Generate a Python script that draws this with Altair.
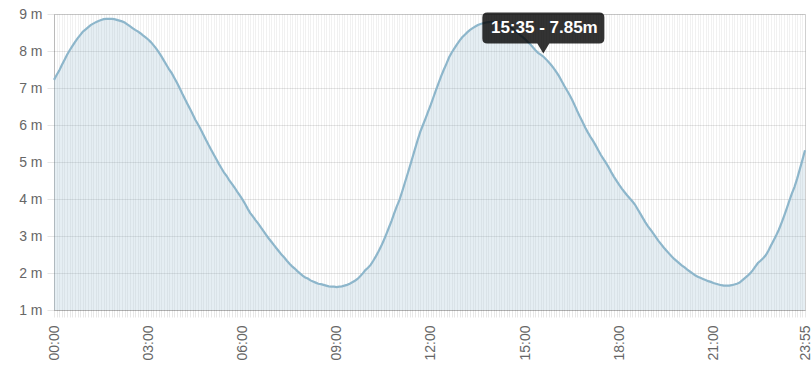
import altair as alt
import pandas as pd

# Tide heights (m) every 5 minutes, 00:00 .. 23:55
h00 = [7.22, 7.35, 7.47, 7.62, 7.76, 7.90, 8.02, 8.13, 8.24, 8.34, 8.43, 8.52]
h01 = [8.58, 8.64, 8.70, 8.74, 8.78, 8.81, 8.84, 8.86, 8.87, 8.87, 8.87, 8.86]
h02 = [8.84, 8.82, 8.80, 8.77, 8.72, 8.67, 8.62, 8.57, 8.53, 8.48, 8.42, 8.37]
h03 = [8.31, 8.24, 8.16, 8.07, 7.97, 7.86, 7.74, 7.62, 7.50, 7.40, 7.27, 7.14]
h04 = [7.00, 6.85, 6.71, 6.57, 6.43, 6.29, 6.14, 6.02, 5.89, 5.75, 5.61, 5.47]
h05 = [5.34, 5.21, 5.08, 4.95, 4.83, 4.71, 4.62, 4.50, 4.41, 4.31, 4.20, 4.10]
h06 = [3.99, 3.87, 3.74, 3.62, 3.53, 3.43, 3.34, 3.24, 3.14, 3.04, 2.94, 2.85]
h07 = [2.76, 2.67, 2.58, 2.49, 2.42, 2.33, 2.25, 2.18, 2.12, 2.05, 1.99, 1.93]
h08 = [1.88, 1.85, 1.80, 1.77, 1.74, 1.71, 1.70, 1.68, 1.66, 1.64, 1.63, 1.63]
h09 = [1.62, 1.63, 1.64, 1.66, 1.68, 1.71, 1.75, 1.79, 1.84, 1.91, 1.99, 2.08]
h10 = [2.14, 2.22, 2.33, 2.45, 2.58, 2.72, 2.88, 3.05, 3.23, 3.41, 3.61, 3.80]
h11 = [3.97, 4.19, 4.42, 4.65, 4.88, 5.12, 5.36, 5.60, 5.82, 6.00, 6.18, 6.37]
h12 = [6.55, 6.75, 6.95, 7.14, 7.33, 7.50, 7.66, 7.83, 7.96, 8.07, 8.18, 8.28]
h13 = [8.37, 8.44, 8.51, 8.57, 8.62, 8.66, 8.70, 8.73, 8.75, 8.77, 8.78, 8.79]
h14 = [8.79, 8.79, 8.78, 8.76, 8.73, 8.70, 8.66, 8.61, 8.56, 8.50, 8.44, 8.38]
h15 = [8.32, 8.25, 8.18, 8.10, 8.02, 7.95, 7.90, 7.85, 7.78, 7.70, 7.62, 7.53]
h16 = [7.43, 7.32, 7.19, 7.06, 6.94, 6.82, 6.68, 6.53, 6.37, 6.22, 6.08, 5.93]
h17 = [5.80, 5.68, 5.57, 5.45, 5.32, 5.19, 5.08, 4.97, 4.85, 4.72, 4.60, 4.49]
h18 = [4.38, 4.28, 4.19, 4.10, 4.02, 3.94, 3.85, 3.73, 3.61, 3.49, 3.37, 3.26]
h19 = [3.17, 3.07, 2.97, 2.87, 2.78, 2.69, 2.61, 2.53, 2.45, 2.38, 2.32, 2.26]
h20 = [2.20, 2.15, 2.09, 2.04, 1.99, 1.94, 1.90, 1.87, 1.84, 1.81, 1.78, 1.76]
h21 = [1.73, 1.71, 1.69, 1.67, 1.66, 1.66, 1.66, 1.67, 1.69, 1.71, 1.74, 1.80]
h22 = [1.86, 1.92, 1.99, 2.07, 2.17, 2.27, 2.33, 2.40, 2.48, 2.60, 2.74, 2.88]
h23 = [3.02, 3.17, 3.35, 3.54, 3.74, 3.95, 4.15, 4.33, 4.55, 4.80, 5.05, 5.32]

heights = (h00 + h01 + h02 + h03 + h04 + h05 + h06 + h07 + h08 + h09 + h10 + h11 +
           h12 + h13 + h14 + h15 + h16 + h17 + h18 + h19 + h20 + h21 + h22 + h23)
minutes = [5 * i for i in range(len(heights))]
y_ticks = [1, 2, 3, 4, 5, 6, 7, 8, 9]
label_minutes = [0, 180, 360, 540, 720, 900, 1080, 1260, 1435]

# hovered point shown in the tooltip
tip_minute = [935]
tip_value = [7.85]
tip_label = ["15:35 - 7.85m"]

df = pd.DataFrame({"minute": minutes, "height": heights})
tip = pd.DataFrame({"minute": tip_minute, "height": tip_value, "label": tip_label})

FONT = "Liberation Sans"
VGRID = "rgba(0,0,0,0.055)"
HGRID = "rgba(0,0,0,0.1)"
LINE = "#8db6cb"

label_test = " || ".join(f"datum.value == {m}" for m in label_minutes)
x_label_expr = (f"({label_test}) ? format(floor(datum.value / 60), '02d') + ':' + "
                f"format(datum.value % 60, '02d') : ''")

x = alt.X("minute:Q",
          scale=alt.Scale(domain=[0, 1435], nice=False, zero=False),
          axis=alt.Axis(values=minutes, labelExpr=x_label_expr, labelAngle=270,
                        labelOverlap=False, labelBound=False, labelFlush=False,
                        labelFont=FONT, labelFontSize=14, labelColor="#666",
                        labelPadding=8, tickSize=7, tickColor="rgba(0,0,0,0.09)",
                        gridColor=VGRID, domainColor=HGRID, title=None))
y = alt.Y("height:Q",
          scale=alt.Scale(domain=[1, 9], nice=False, zero=False),
          axis=alt.Axis(values=y_ticks, labelExpr="datum.value + ' m'",
                        labelFont=FONT, labelFontSize=14, labelColor="#666",
                        labelPadding=5, tickSize=7, tickColor=HGRID,
                        gridColor=HGRID, domainColor=HGRID, title=None))

area = alt.Chart(df).mark_area(color=LINE, fillOpacity=0.23).encode(
    x=x, y=y, y2=alt.datum(1))
line = alt.Chart(df).mark_line(color=LINE, strokeWidth=2.2).encode(x=x, y=y)

box_path = ("M -56 -44 L 56 -44 Q 61 -44 61 -39 L 61 -18 Q 61 -13 56 -13 "
            "L 6 -13 L 0 -3 L -6 -13 L -56 -13 Q -61 -13 -61 -18 "
            "L -61 -39 Q -61 -44 -56 -44 Z")
box = alt.Chart(tip).mark_point(shape=box_path, size=4, filled=True,
                                fill="rgba(0,0,0,0.8)", opacity=1,
                                strokeWidth=0).encode(x=x, y=y)
text = alt.Chart(tip).mark_text(font=FONT, fontSize=17, fontWeight="bold",
                                color="white", align="center", baseline="middle",
                                dy=-28.5, dx=1).encode(x=x, y=y, text="label:N")

chart = alt.layer(area, line, box, text).properties(
    width=751, height=296,
    padding={"left": 54, "top": 14, "right": 7, "bottom": 68},
    autosize=alt.AutoSizeParams(type="none"),
).configure_view(stroke=None).configure(background="white")

chart.save("out.html", embed_options={"renderer": "svg", "actions": False})
